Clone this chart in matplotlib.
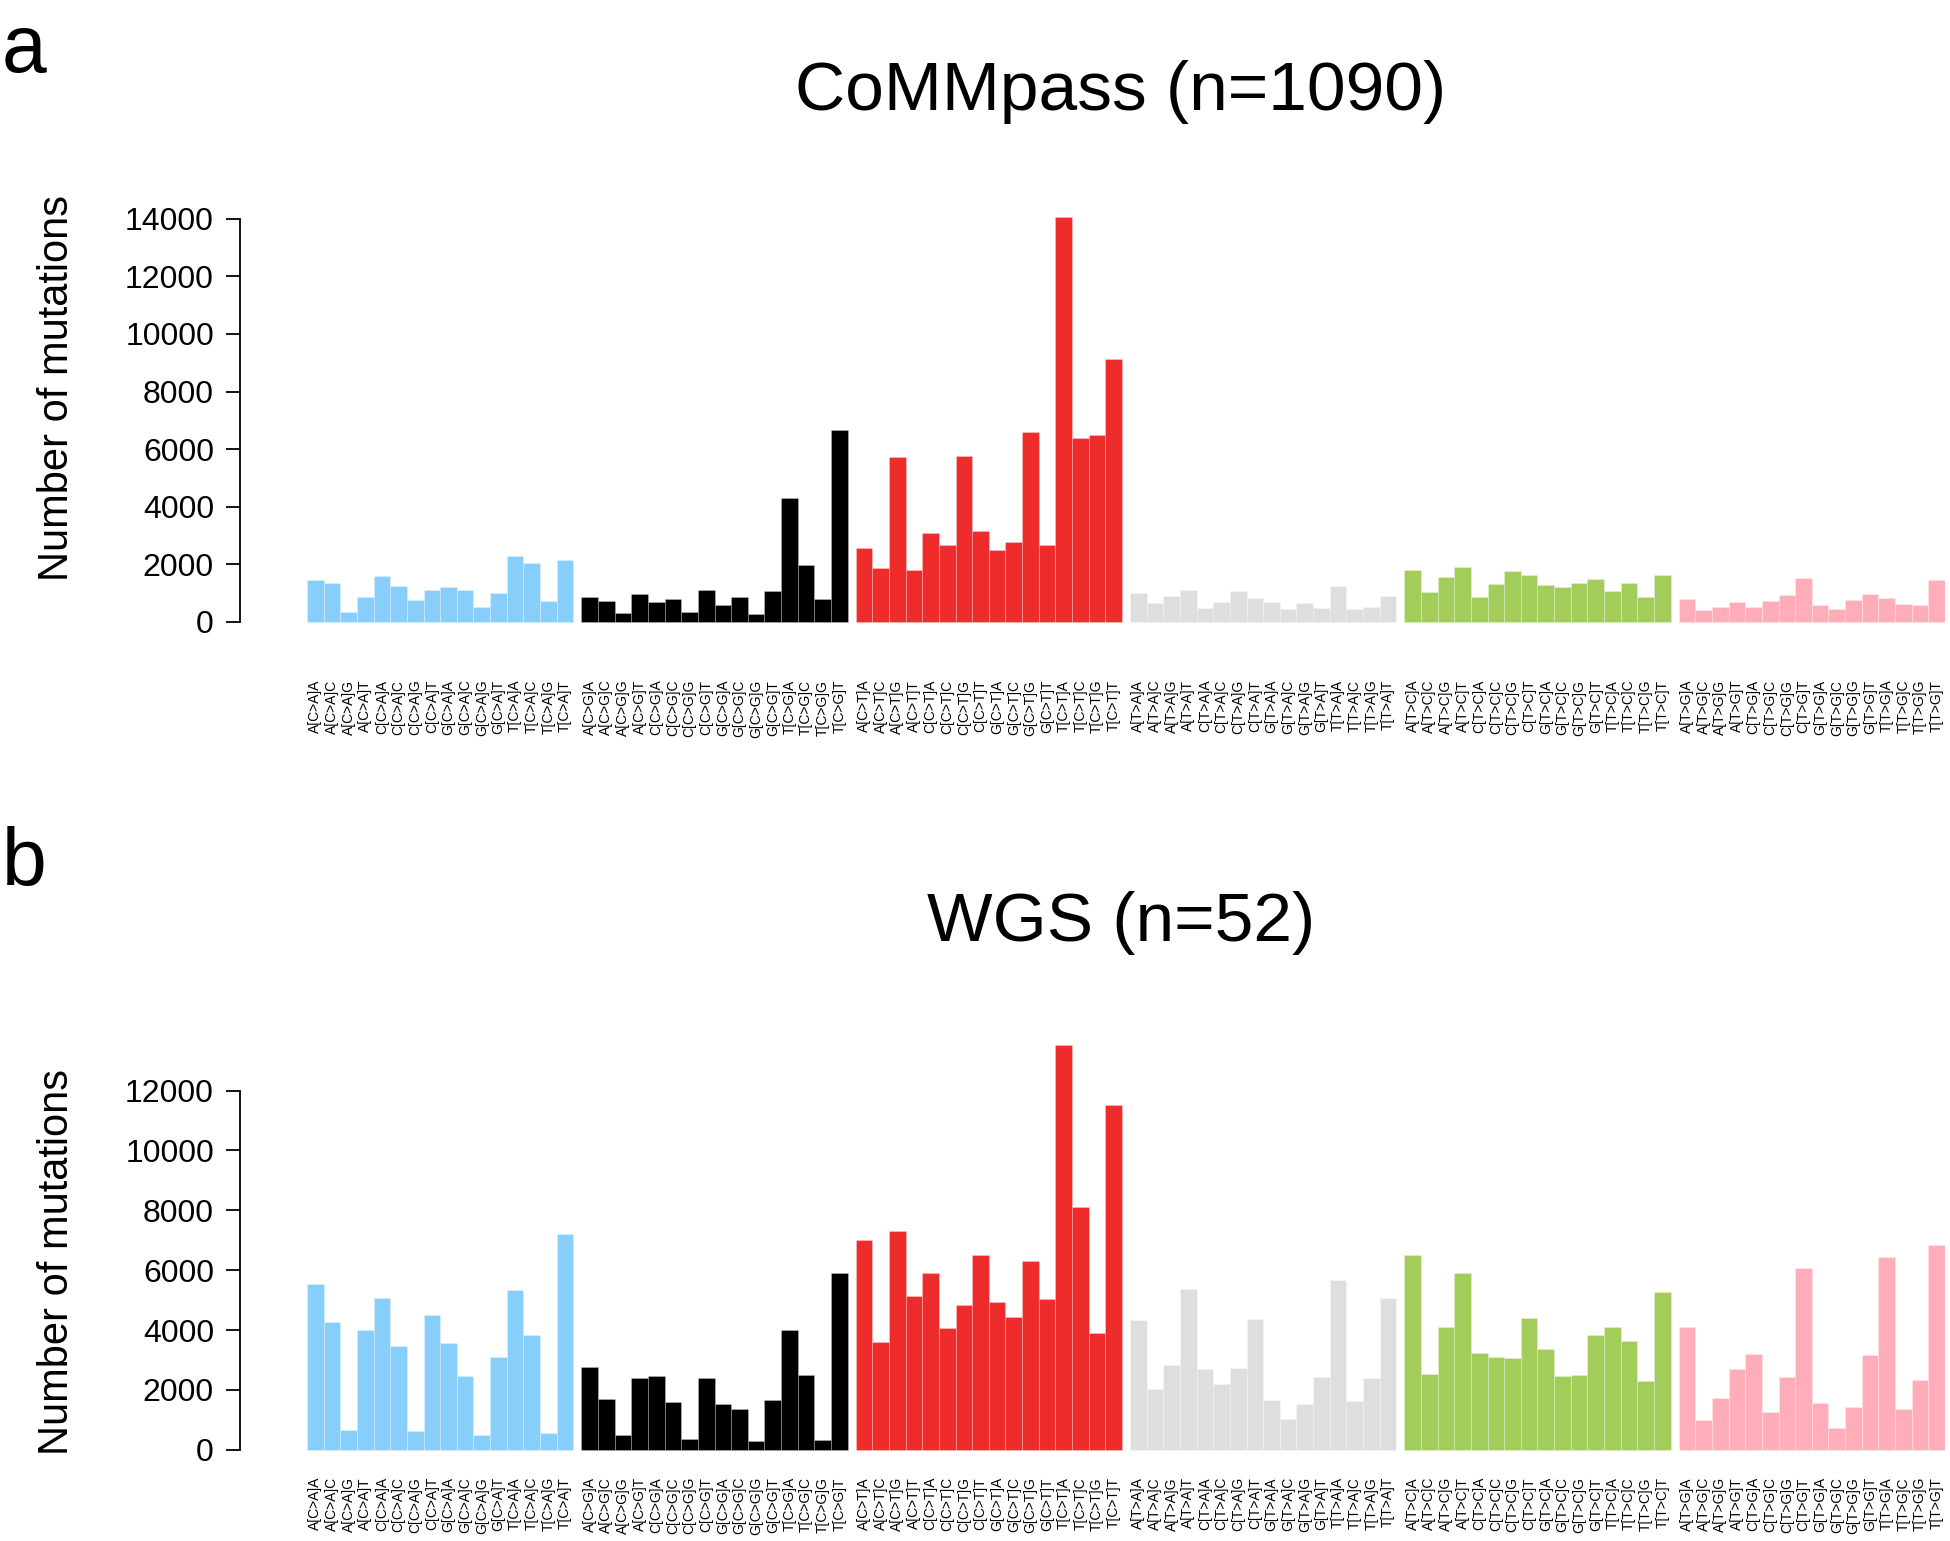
import matplotlib
matplotlib.use("Agg")
import matplotlib.pyplot as plt

plt.rcParams['font.family'] = ['Liberation Sans', 'DejaVu Sans']

#### DATA ####
bases = ['A', 'C', 'G', 'T']
subs = ['C>A', 'C>G', 'C>T', 'T>A', 'T>C', 'T>G']
sub_colors = ['#87CEFA', '#000000', '#EE2C2C', '#DEDEDE', '#A2CD5A', '#FFAEB9']

# 96 trinucleotide contexts, e.g. A[C>A]G
contexts = [f'{l}[{s}]{r}' for s in subs for l in bases for r in bases]

# CoMMpass (n=1090), 16 values per substitution type
commpass_ca = [1451, 1335, 348, 859, 1590, 1242, 743, 1114, 1196, 1091, 522, 987, 2275, 2031, 731, 2147]
commpass_cg = [871, 720, 302, 952, 685, 789, 325, 1103, 580, 847, 279, 1056, 4295, 1973, 778, 6663]
commpass_ct = [2577, 1857, 5711, 1799, 3076, 2670, 5746, 3157, 2507, 2774, 6593, 2670, 14057, 6384, 6477, 9135]
commpass_ta = [998, 638, 882, 1103, 488, 685, 1079, 824, 685, 429, 638, 476, 1242, 453, 522, 882]
commpass_tc = [1799, 1045, 1567, 1892, 859, 1312, 1764, 1625, 1288, 1196, 1347, 1486, 1068, 1335, 871, 1625]
commpass_tg = [789, 418, 511, 696, 522, 708, 917, 1521, 592, 441, 766, 963, 824, 615, 580, 1463]

# WGS (n=52)
wgs_ca = [5526, 4256, 657, 3989, 5070, 3465, 624, 4513, 3577, 2451, 501, 3109, 5326, 3844, 568, 7198]
wgs_cg = [2763, 1694, 479, 2384, 2462, 1593, 345, 2407, 1526, 1359, 279, 1660, 4000, 2485, 334, 5905]
wgs_ct = [7008, 3599, 7309, 5136, 5894, 4056, 4825, 6496, 4925, 4435, 6295, 5025, 13515, 8100, 3911, 11532]
wgs_ta = [4345, 2028, 2830, 5359, 2707, 2195, 2730, 4368, 1660, 1036, 1526, 2429, 5660, 1638, 2407, 5070]
wgs_tc = [6518, 2540, 4100, 5905, 3231, 3097, 3075, 4412, 3354, 2451, 2496, 3822, 4111, 3632, 2284, 5259]
wgs_tg = [4100, 981, 1727, 2707, 3187, 1259, 2429, 6084, 1571, 724, 1437, 3176, 6429, 1359, 2329, 6830]

commpass = [commpass_ca, commpass_cg, commpass_ct, commpass_ta, commpass_tc, commpass_tg]
wgs = [wgs_ca, wgs_cg, wgs_ct, wgs_ta, wgs_tc, wgs_tg]

commpass_ticks = [0, 2000, 4000, 6000, 8000, 10000, 12000, 14000]
wgs_ticks = [0, 2000, 4000, 6000, 8000, 10000, 12000]

#### PLOTTING ####
W, H = 1950, 1541
group_gap = 0.48


def bar_positions():
    xs = []
    for g in range(len(subs)):
        for i in range(len(bases) * len(bases)):
            xs.append(g * (16 + group_gap) + i)
    return xs


def draw_panel(fig, bottom_px, groups, yticks, title, title_y, letter, letter_base, ylab_y, xlab_pad):
    ax = fig.add_axes([307 / W, 1 - bottom_px / H, 1638 / W, 437 / H])
    xs = bar_positions()
    heights = [v for grp in groups for v in grp]
    colors = [c for c in sub_colors for _ in range(16)]
    ax.bar(xs, heights, width=1.0, color=colors, edgecolor=(1, 1, 1, 0.35),
           linewidth=0.5, align='center')
    ymax = max(heights)
    ax.set_ylim(-0.04 * ymax, 1.04 * ymax)
    ax.set_xlim(xs[0] - 0.5, xs[-1] + 0.5)

    for side in ['top', 'right', 'bottom']:
        ax.spines[side].set_visible(False)
    ax.spines['left'].set_position(('outward', 48))
    ax.spines['left'].set_bounds(yticks[0], yticks[-1])
    ax.spines['left'].set_linewidth(1.3)
    ax.set_yticks(yticks)
    ax.set_yticklabels([str(t) for t in yticks], fontsize=23)
    ax.tick_params(axis='y', length=10, width=1.3, pad=9)

    ax.set_xticks(xs)
    ax.set_xticklabels(contexts, rotation=90, fontsize=10)
    ax.tick_params(axis='x', length=0, pad=xlab_pad)

    ax.set_ylabel('Number of mutations', fontsize=30)
    ax.yaxis.set_label_coords((77 - 307) / 1638, (bottom_px - ylab_y) / 437)

    fig.text(1121 / W, 1 - title_y / H, title, fontsize=50, ha='center', va='center')
    fig.text(2 / W, 1 - letter_base / H, letter, fontsize=58, ha='left', va='baseline')
    return ax


fig = plt.figure(figsize=(W / 100, H / 100), dpi=100)
draw_panel(fig, 638, commpass, commpass_ticks, 'CoMMpass (n=1090)', 92, 'a', 72, 388, 30)
draw_panel(fig, 1466, wgs, wgs_ticks, 'WGS (n=52)', 923, 'b', 885, 1262, 8)
fig.savefig('out.png', dpi=100)
